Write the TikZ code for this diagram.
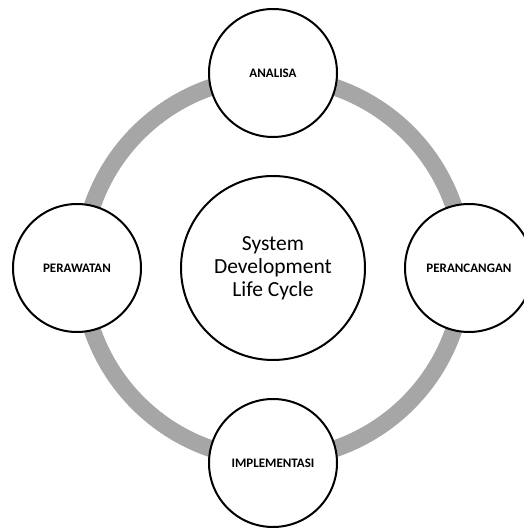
\documentclass[tikz,border=0pt]{standalone}
\usepackage{fontspec}
\setmainfont{Carlito}[BoldFont={Carlito Bold}]
\definecolor{ringgray}{HTML}{A6A6A6}
\tikzset{
  phase/.style={circle,draw=black,line width=2pt,fill=white,minimum size=128pt,inner sep=0pt,
    font=\fontsize{13}{15}\selectfont\bfseries},
  hub/.style={circle,draw=black,line width=2pt,fill=white,minimum size=184pt,inner sep=0pt,
    align=center,font=\fontsize{21.5}{23}\selectfont}
}
\begin{document}
\begin{tikzpicture}[x=1pt,y=1pt]
\useasboundingbox(0,0) rectangle (524,528);
\draw[ringgray,line width=17pt](273,260) circle (191);
\node[hub](sdlc) at (273,260) {System\\Development\\Life Cycle};
\node[phase](analisa) at (273,455) {ANALISA};
\node[phase](perancangan) at (469,260) {PERANCANGAN};
\node[phase](implementasi) at (273,65) {IMPLEMENTASI};
\node[phase](perawatan) at (77,260) {PERAWATAN};
\end{tikzpicture}
\end{document}
